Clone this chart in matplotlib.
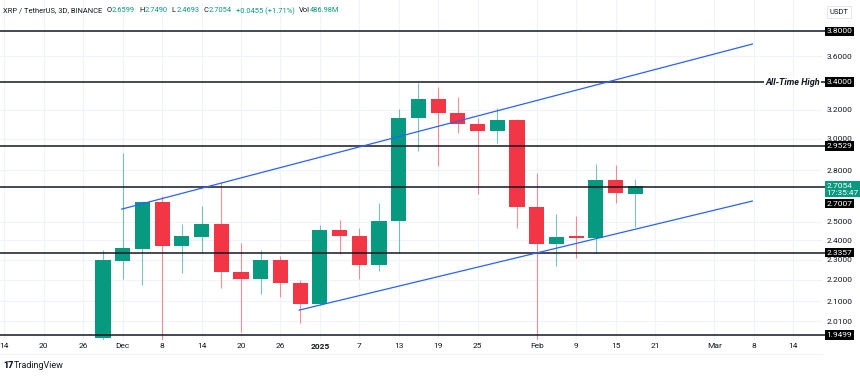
import matplotlib
matplotlib.use('Agg')
import matplotlib.pyplot as plt
import matplotlib.transforms as mtransforms
from matplotlib.ticker import NullLocator
from matplotlib.lines import Line2D
import pandas as pd

plt.rcParams['font.family'] = ['Roboto', 'DejaVu Sans']

# 3D candles, XRP / USDT
dates = pd.date_range('2024-11-29', periods=28, freq='3D')
opens = [1.935, 2.294, 2.357, 2.611, 2.370, 2.418, 2.488, 2.239, 2.205, 2.298,
         2.185, 2.087, 2.455, 2.423, 2.274, 2.504, 3.141, 3.275, 3.176, 3.100,
         3.053, 3.127, 2.583, 2.381, 2.423, 2.413, 2.741, 2.6599]
highs = [2.349, 2.909, 2.620, 2.646, 2.488, 2.588, 2.729, 2.386, 2.349, 2.319,
         2.200, 2.482, 2.510, 2.468, 2.606, 3.204, 3.390, 3.363, 3.290, 3.141,
         3.211, 3.135, 2.783, 2.543, 2.532, 2.839, 2.835, 2.7490]
lows = [1.930, 2.205, 2.176, 1.900, 2.234, 2.339, 2.161, 1.962, 2.133, 2.119,
        2.001, 2.080, 2.329, 2.205, 2.246, 2.333, 2.921, 2.826, 3.039, 2.658,
        2.973, 2.466, 1.900, 2.269, 2.310, 2.333, 2.606, 2.4693]
closes = [2.298, 2.360, 2.611, 2.370, 2.423, 2.488, 2.239, 2.205, 2.298, 2.185,
          2.087, 2.455, 2.423, 2.274, 2.504, 3.141, 3.275, 3.176, 3.100, 3.053,
          3.127, 2.583, 2.381, 2.418, 2.413, 2.741, 2.664, 2.7054]

levels = [3.8, 3.4, 2.9529, 2.7007, 2.3357, 1.9499]
price_ticks = [2.01, 2.1, 2.2, 2.3, 2.4, 2.5, 2.8, 3.0, 3.2, 3.6]

tick_dates = ['2024-11-14', '2024-11-20', '2024-11-26', '2024-12-02', '2024-12-08',
              '2024-12-14', '2024-12-20', '2024-12-26', '2025-01-01', '2025-01-07',
              '2025-01-13', '2025-01-19', '2025-01-25', '2025-02-03', '2025-02-09',
              '2025-02-15', '2025-02-21', '2025-03-02', '2025-03-08', '2025-03-14']
tick_labels = ['14', '20', '26', 'Dec', '8', '14', '20', '26', '2025', '7',
               '13', '19', '25', 'Feb', '9', '15', '21', 'Mar', '8', '14']

# channel lines (days since 14 Nov, price)
upper_x, upper_y = [17.85, 113.8], [2.571, 3.696]
lower_x, lower_y = [44.84, 113.8], [2.059, 2.617]

GREEN = '#089981'
RED = '#F23645'
DARK = '#131722'

base = pd.Timestamp('2024-11-14')
x = (dates - base).days.values
tx = (pd.to_datetime(tick_dates) - base).days.values

fig = plt.figure(figsize=(8.6, 3.76), dpi=100)
ax = fig.add_axes([0, 36 / 376, 822 / 860, 340 / 376])
ax.set_yscale('log')
ax.set_xlim(-0.67, 124.4)
ax.set_ylim(1.928, 4.072)

for xi, o, h, l, c in zip(x, opens, highs, lows, closes):
    col = GREEN if c >= o else RED
    ax.vlines(xi, l, h, color=col, lw=0.8, alpha=0.55, zorder=3)
    ax.bar(xi, abs(c - o), bottom=min(o, c), width=2.3, color=col, lw=0, zorder=4)

blend = mtransforms.blended_transform_factory(ax.transAxes, ax.transData)
for lv in levels:
    ax.plot([0, 1.006], [lv, lv], color=DARK, lw=1.1, transform=blend,
            clip_on=False, zorder=5)

ax.plot(upper_x, upper_y, color='#2962FF', lw=0.9, zorder=6)
ax.plot(lower_x, lower_y, color='#2962FF', lw=0.9, zorder=6)

ax.annotate('All-Time High', xy=(1, 3.4), xycoords=('axes fraction', 'data'),
            xytext=(-1.5, 0), textcoords='offset points', ha='right', va='center',
            fontsize=6.5, style='italic', fontweight='semibold', color=DARK,
            bbox=dict(boxstyle='square,pad=0.1', fc='white', ec='none'), zorder=7)

# axes / grid
for s in ax.spines.values():
    s.set_visible(False)
ax.yaxis.tick_right()
ax.set_yticks(price_ticks)
ax.set_yticklabels([f'{v:.4f}' for v in price_ticks])
ax.yaxis.set_minor_locator(NullLocator())
ax.set_xticks(tx)
ax.set_xticklabels(tick_labels)
ax.get_xticklabels()[tick_labels.index('2025')].set_fontweight('bold')
ax.tick_params(axis='y', length=0, pad=3, labelsize=6, labelcolor=DARK)
ax.tick_params(axis='x', length=0, pad=2.5, labelsize=6, labelcolor=DARK)
ax.grid(True, color='#f0f3fa', lw=0.8)
ax.set_axisbelow(True)


def price_tag(y, txt, fc, dy=0):
    ax.annotate(txt, xy=(1, y), xycoords=('axes fraction', 'data'),
                xytext=(3.2, dy), textcoords='offset points', ha='left', va='center',
                fontsize=6, color='white', linespacing=1.1,
                bbox=dict(boxstyle='square,pad=0.2', fc=fc, ec='none'),
                annotation_clip=False, zorder=8)


for lv in [3.8, 3.4, 2.9529, 2.3357, 1.9499]:
    price_tag(lv, f'{lv:.4f}', 'black')
price_tag(2.7007, '2.7007', 'black', dy=-12.3)
price_tag(2.7054, '2.7054\n17:35:47', GREEN, dy=-2.5)

# header, laid out left to right (gap in px before each chunk)
hy = 1 - 11 / 376
chunks = [(0, 'XRP / TetherUS, 3D, BINANCE', DARK), (4, 'O', DARK), (0.5, '2.6599', GREEN),
          (4, 'H', DARK), (0.5, '2.7490', GREEN), (4, 'L', DARK), (0.5, '2.4693', GREEN),
          (4, 'C', DARK), (0.5, '2.7054', GREEN), (4, '+0.0455 (+1.71%)', GREEN),
          (4, 'Vol', DARK), (0.5, '486.98M', GREEN)]
renderer = fig.canvas.get_renderer()
px = 3
for gap, t, c in chunks:
    px += gap
    txt = fig.text(px / 860, hy, t, color=c, fontsize=5.4, va='center', ha='left')
    px = txt.get_window_extent(renderer).x1

fig.text(839 / 860, 1 - 12 / 376, 'USDT', fontsize=5.5, color=DARK, ha='center', va='center',
         bbox=dict(boxstyle='square,pad=0.35', fc='white', ec='#e0e3eb', lw=0.6))

fig.add_artist(Line2D([0, 822 / 860], [1 - 354 / 376] * 2, color='#f0f3fa', lw=0.8))
fig.text(3 / 860, 1 - 365 / 376, '17', fontsize=6.5, fontweight='heavy', color=DARK, va='center')
fig.text(14 / 860, 1 - 365 / 376, 'TradingView', fontsize=6.5, color=DARK, va='center')

fig.savefig('out.png', dpi=100, facecolor='white')
